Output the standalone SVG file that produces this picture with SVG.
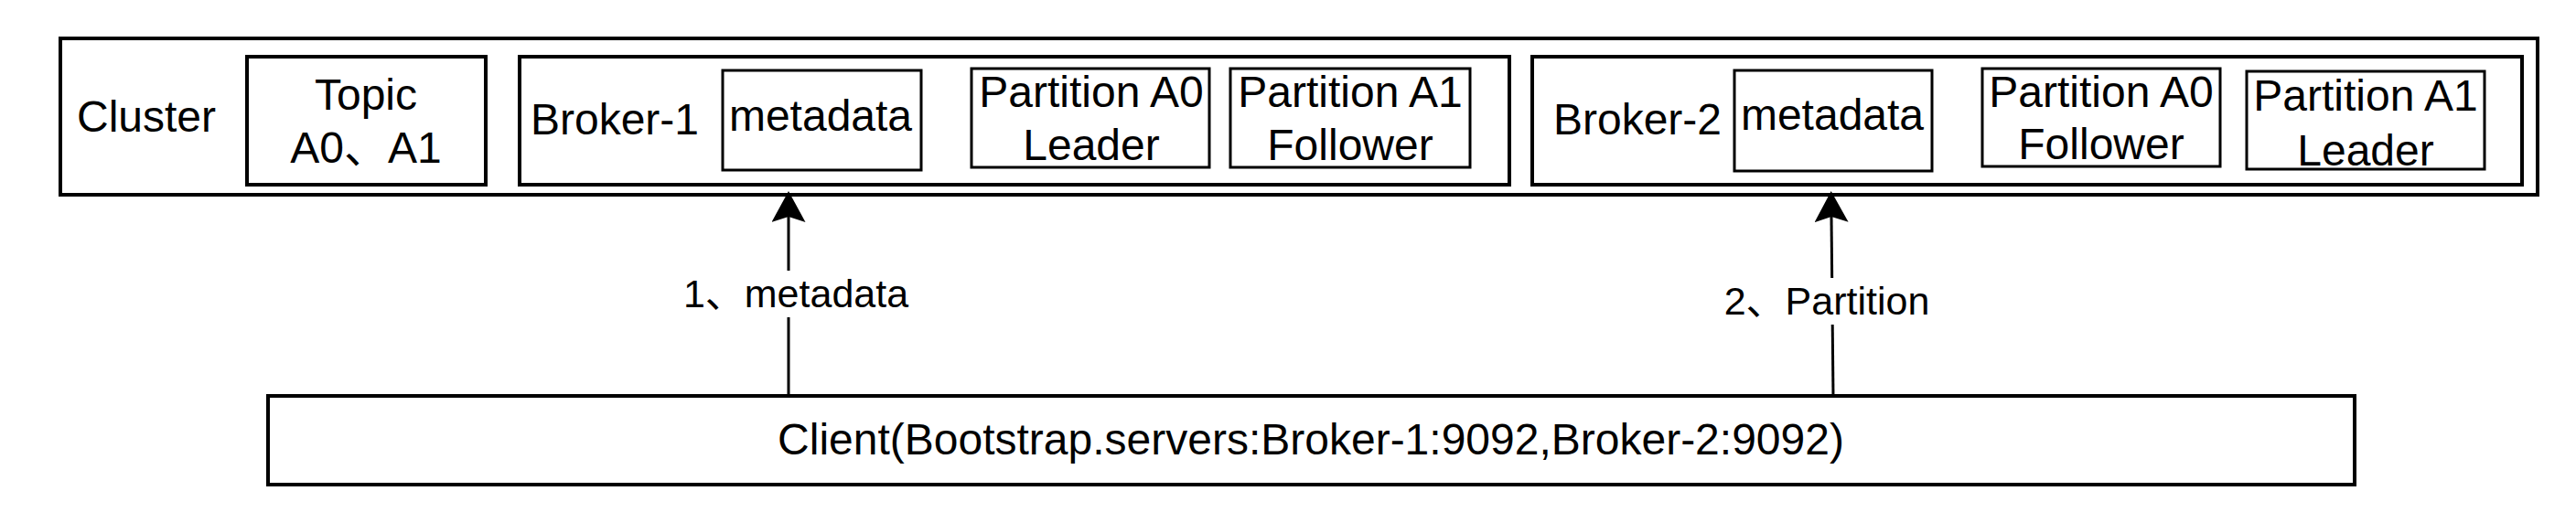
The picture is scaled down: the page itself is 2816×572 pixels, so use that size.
<svg xmlns="http://www.w3.org/2000/svg" width="2816" height="572" viewBox="0 0 2816 572">
  <style>
    .box { fill: #ffffff; stroke: #000000; stroke-width: 4; }
    .inner { fill: #ffffff; stroke: #000000; stroke-width: 3; }
    .t { font-family: "Liberation Sans", Arial, "Noto Sans CJK SC", sans-serif; font-size: 48px; fill: #000000; text-anchor: middle; }
    .lbl { font-family: "Liberation Sans", Arial, "Noto Sans CJK SC", sans-serif; font-size: 43px; fill: #000000; text-anchor: middle; }
    .edge { fill: none; stroke: #000000; stroke-width: 3; stroke-linecap: butt; }
    .lblbg { fill: #ffffff; stroke: none; }
  </style>
  <defs>
    <marker id="arrow" viewBox="0 0 34 37" refX="6" refY="18.5" markerWidth="34" markerHeight="37" markerUnits="userSpaceOnUse" orient="auto">
      <path d="M34,18.5 L0,0 L6,18.5 L0,37 Z" fill="#000000"/>
    </marker>
  </defs>
  <rect width="2816" height="572" fill="#ffffff"/>

  <g id="cluster">
    <rect class="box" x="66" y="42" width="2708" height="171"/>
    <text class="t" x="160" y="144">Cluster</text>
  </g>
  <g id="topic">
    <rect class="box" x="270" y="62" width="261" height="140"/>
    <text class="t" x="400" y="120">Topic</text>
    <text class="t" x="400" y="178">A0、A1</text>
  </g>
  <g id="broker1">
    <rect class="box" x="568" y="62" width="1082" height="140"/>
    <text class="t" x="672" y="147">Broker-1</text>
  </g>
  <g id="metadata1">
    <rect class="inner" x="790" y="77" width="217" height="109"/>
    <text class="t" x="897" y="143">metadata</text>
  </g>
  <g id="b1-partition-a0">
    <rect class="inner" x="1062" y="75" width="260" height="108"/>
    <text class="t" x="1193" y="117">Partition A0</text>
    <text class="t" x="1193" y="175">Leader</text>
  </g>
  <g id="b1-partition-a1">
    <rect class="inner" x="1345" y="75" width="262" height="108"/>
    <text class="t" x="1476" y="117">Partition A1</text>
    <text class="t" x="1476" y="175">Follower</text>
  </g>
  <g id="broker2">
    <rect class="box" x="1675" y="62" width="1082" height="140"/>
    <text class="t" x="1790" y="147">Broker-2</text>
  </g>
  <g id="metadata2">
    <rect class="inner" x="1896" y="77" width="216" height="110"/>
    <text class="t" x="2003" y="142">metadata</text>
  </g>
  <g id="b2-partition-a0">
    <rect class="inner" x="2167" y="75" width="260" height="107"/>
    <text class="t" x="2297" y="117">Partition A0</text>
    <text class="t" x="2297" y="174">Follower</text>
  </g>
  <g id="b2-partition-a1">
    <rect class="inner" x="2456" y="78" width="260" height="107"/>
    <text class="t" x="2586" y="121">Partition A1</text>
    <text class="t" x="2586" y="181">Leader</text>
  </g>
  <g id="client">
    <rect class="box" x="293" y="433" width="2281" height="97"/>
    <text class="t" x="1433" y="497">Client(Bootstrap.servers:Broker-1:9092,Broker-2:9092)</text>
  </g>

  <g id="connectors">
    <g id="edge1">
      <line class="edge" x1="862" y1="433" x2="862" y2="237" marker-end="url(#arrow)"/>
      <rect class="lblbg" x="745" y="296" width="252" height="51"/>
      <text class="lbl" x="870" y="336">1、metadata</text>
    </g>
    <g id="edge2">
      <line class="edge" x1="2004" y1="433" x2="2002" y2="237" marker-end="url(#arrow)"/>
      <rect class="lblbg" x="1880" y="304" width="234" height="51"/>
      <text class="lbl" x="1997" y="344">2、Partition</text>
    </g>
  </g>
</svg>
